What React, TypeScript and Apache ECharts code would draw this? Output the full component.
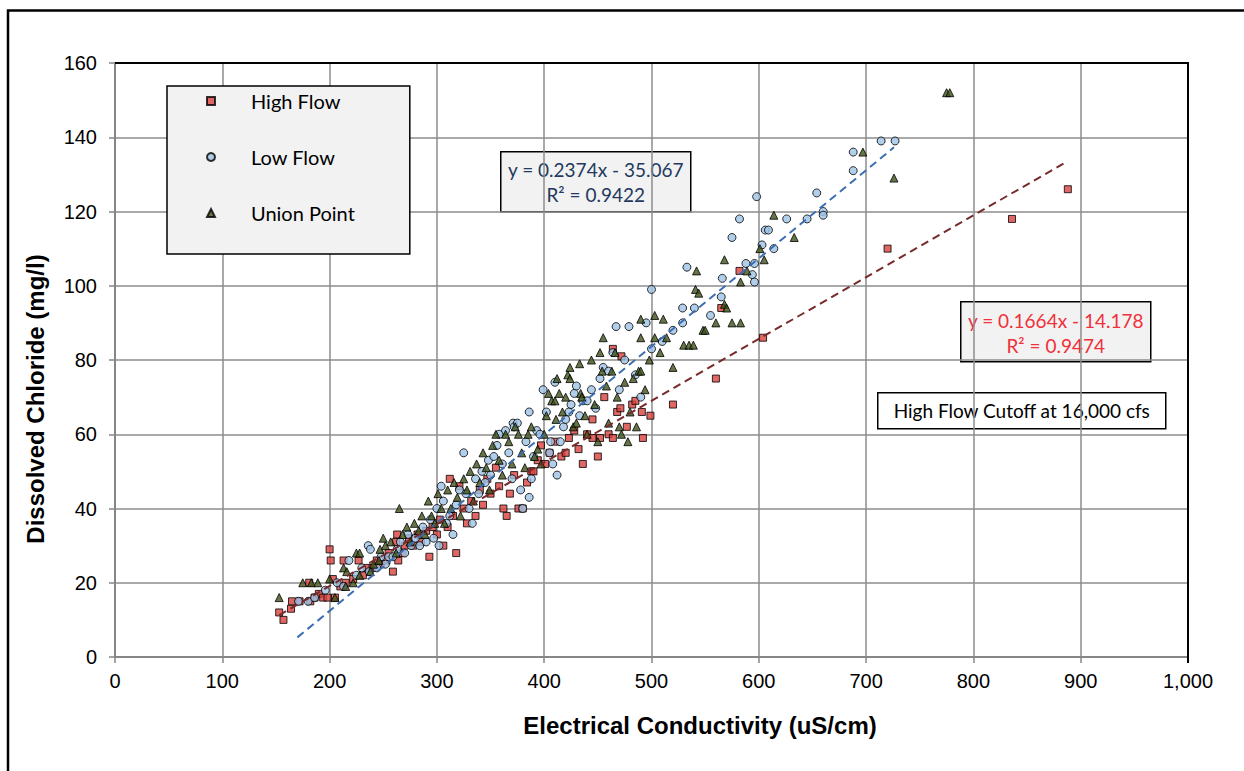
import React, { useEffect, useRef } from "react";
import * as echarts from "echarts";

// Electrical conductivity (uS/cm) vs dissolved chloride (mg/l) samples
const highFlow: [number, number][] = [
  [153, 12], [157, 10], [164, 13], [165, 15], [172, 15], [181, 20], [182, 15], [186, 16],
  [190, 17], [194, 16], [198, 16], [200, 29], [201, 26], [203, 21], [205, 16], [210, 19],
  [213, 26], [215, 20], [222, 21], [227, 26], [231, 22], [235, 24], [240, 24], [244, 26],
  [248, 25], [253, 26], [255, 28], [259, 23], [262, 31], [263, 33], [264, 26], [268, 28],
  [270, 30], [274, 32], [278, 30], [282, 33], [285, 31], [290, 34], [293, 27], [296, 35],
  [300, 33], [303, 37], [306, 30], [310, 35], [312, 48], [315, 38], [318, 28], [321, 46],
  [325, 40], [328, 36], [332, 42], [336, 38], [340, 45], [343, 41], [347, 48], [350, 44],
  [355, 51], [358, 46], [362, 40], [365, 38], [368, 44], [372, 49], [376, 40], [380, 40],
  [384, 47], [388, 50], [390, 50], [394, 53], [397, 57], [401, 52], [405, 55], [410, 58],
  [416, 54], [420, 55], [423, 59], [428, 61], [432, 56], [436, 52], [440, 60], [445, 64],
  [445, 59], [450, 54], [452, 59], [456, 70], [460, 60], [464, 59], [464, 83], [468, 66],
  [471, 67], [472, 81], [477, 62], [482, 68], [485, 69], [491, 66], [492, 59], [499, 65],
  [520, 68], [560, 75], [565, 94], [582, 104], [604, 86], [720, 110], [836, 118], [888, 126],
];

const lowFlow: [number, number][] = [
  [171, 15], [180, 15], [186, 16], [196, 18], [207, 20], [213, 19], [218, 26], [225, 22],
  [230, 24], [236, 30], [237, 23], [238, 29], [244, 24], [248, 27], [252, 25], [255, 27],
  [259, 27], [263, 29], [266, 31], [270, 28], [273, 33], [276, 30], [280, 32], [284, 30],
  [287, 35], [290, 31], [294, 37], [297, 32], [300, 40], [302, 30], [304, 46], [306, 42],
  [309, 36], [312, 38], [315, 33], [318, 41], [321, 45], [325, 55], [327, 44], [330, 40],
  [333, 36], [336, 48], [339, 44], [342, 50], [345, 47], [348, 53], [350, 49], [353, 54],
  [356, 57], [358, 60], [361, 52], [364, 61], [367, 55], [370, 48], [371, 63], [372, 62],
  [375, 63], [378, 45], [380, 40], [383, 58], [386, 43], [386, 66], [388, 48], [390, 54],
  [393, 61], [396, 60], [399, 72], [402, 66], [405, 55], [406, 58], [408, 52], [410, 74],
  [412, 49], [415, 58], [418, 62], [420, 64], [423, 66], [425, 68], [428, 71], [430, 73],
  [433, 65], [436, 69], [440, 69], [444, 72], [448, 67], [452, 75], [455, 78], [460, 77],
  [464, 82], [467, 89], [470, 72], [475, 80], [479, 89], [485, 76], [490, 70], [495, 90],
  [500, 99], [500, 83], [510, 85], [520, 88], [529, 90], [529, 94], [533, 105], [540, 94],
  [555, 92], [565, 97], [566, 102], [575, 113], [582, 118], [588, 106], [594, 103], [596, 101],
  [596, 106], [598, 124], [603, 111], [606, 115], [609, 115], [614, 110], [626, 118], [645, 118],
  [654, 125], [660, 120], [660, 119], [688, 131], [688, 136], [714, 139], [727, 139],
];

const unionPoint: [number, number][] = [
  [153, 16], [175, 20], [183, 20], [189, 20], [200, 21], [205, 16], [213, 24], [215, 19],
  [216, 23], [222, 20], [225, 28], [228, 28], [228, 22], [238, 23], [241, 25], [246, 26],
  [247, 29], [250, 32], [252, 30], [257, 31], [262, 28], [265, 40], [268, 33], [272, 35],
  [275, 31], [279, 36], [283, 34], [286, 38], [289, 33], [292, 42], [295, 38], [298, 36],
  [301, 44], [304, 40], [307, 36], [310, 45], [313, 40], [316, 47], [319, 43], [322, 38],
  [325, 48], [328, 45], [331, 50], [334, 42], [337, 52], [340, 47], [343, 55], [346, 51],
  [349, 45], [352, 57], [355, 60], [358, 53], [361, 49], [364, 60], [367, 58], [370, 52],
  [373, 62], [376, 60], [379, 55], [382, 51], [385, 60], [388, 62], [391, 54], [394, 56],
  [397, 52], [400, 60], [402, 65], [404, 71], [407, 69], [410, 69], [411, 64], [412, 75],
  [414, 71], [417, 66], [420, 70], [422, 76], [424, 78], [424, 75], [427, 62], [430, 63],
  [433, 79], [434, 71], [435, 70], [438, 65], [440, 60], [444, 80], [447, 68], [450, 58],
  [452, 82], [454, 77], [455, 86], [458, 73], [460, 63], [463, 77], [466, 82], [468, 70],
  [470, 62], [472, 60], [475, 74], [478, 58], [480, 66], [483, 75], [486, 62], [488, 77],
  [490, 86], [490, 91], [490, 77], [494, 72], [498, 80], [503, 86], [503, 92], [508, 82],
  [511, 91], [514, 86], [520, 78], [530, 84], [535, 84], [539, 84], [541, 99], [542, 104],
  [544, 98], [548, 88], [550, 88], [560, 90], [568, 95], [568, 107], [570, 94], [575, 90],
  [583, 101], [583, 90], [589, 104], [601, 110], [605, 107], [614, 119], [633, 113], [697, 136],
  [726, 129], [775, 152], [778, 152],
];

// Linear fits (slope, intercept) and the x-range each trend line spans
const lowFlowFit = { slope: 0.2374, intercept: -35.067, r2: 0.9422, from: 170, to: 726 };
const highFlowFit = { slope: 0.1664, intercept: -14.178, r2: 0.9474, from: 153, to: 888 };

const xTicks = { min: 0, max: 1000, interval: 100 };
const yTicks = { min: 0, max: 160, interval: 20 };

const xTitle = "Electrical Conductivity (uS/cm)";
const yTitle = "Dissolved Chloride (mg/l)";
const cutoffNote = "High Flow Cutoff at 16,000 cfs";

const fitLine = (f: typeof lowFlowFit): [number, number][] => [
  [f.from, f.slope * f.from + f.intercept],
  [f.to, f.slope * f.to + f.intercept],
];

const eqText = (f: typeof lowFlowFit) =>
  `y = ${f.slope}x - ${Math.abs(f.intercept).toFixed(3)}\nR² = ${f.r2}`;

export default function App() {
  const ref = useRef<HTMLDivElement>(null);

  useEffect(() => {
    if (!ref.current) return;
    const chart = echarts.init(ref.current, null, { renderer: "svg" });

    const gridGray = "#8c8c8c";
    const tickFont = { fontFamily: "Liberation Sans, Arial", fontSize: 20, color: "#000" };
    const calibriLike = "Lato, Carlito, sans-serif";
    const titleStyle = {
      fontFamily: "Liberation Sans, Arial",
      fontSize: 24,
      fontWeight: "bold",
      fill: "#000",
      align: "center",
      verticalAlign: "middle",
    };

    const scatterBase = {
      type: "scatter" as const,
      symbolSize: 8,
      itemStyle: { borderColor: "#000", borderWidth: 1 },
    };

    chart.setOption({
      animation: false,
      backgroundColor: "#fff",
      grid: { left: 115, right: 56, top: 63, bottom: 114, show: false },
      xAxis: {
        type: "value",
        ...xTicks,
        axisLine: { show: true, onZero: false, lineStyle: { color: "#868686", width: 2 } },
        axisTick: { show: true, length: 6, lineStyle: { color: "#868686", width: 1.5 } },
        axisLabel: {
          ...tickFont,
          margin: 14,
          formatter: (v: number) => v.toLocaleString("en-US"),
        },
        splitLine: {
          show: true,
          showMinLine: false,
          showMaxLine: false,
          lineStyle: { color: gridGray, width: 1.5 },
        },
      },
      yAxis: {
        type: "value",
        ...yTicks,
        axisLine: { show: true, onZero: false, lineStyle: { color: "#868686", width: 2 } },
        axisTick: { show: true, length: 6, lineStyle: { color: "#868686", width: 1.5 } },
        axisLabel: { ...tickFont, margin: 18 },
        splitLine: {
          show: true,
          showMinLine: false,
          showMaxLine: false,
          lineStyle: { color: gridGray, width: 1.5 },
        },
      },
      legend: {
        orient: "vertical",
        left: 167,
        top: 86,
        itemWidth: 8,
        itemHeight: 8,
        itemGap: 36,
        padding: [5, 55, 31, 39],
        backgroundColor: "#f2f2f2",
        borderColor: "#000",
        borderWidth: 1.5,
        textStyle: {
          fontFamily: calibriLike,
          fontSize: 20,
          color: "#000",
          padding: [0, 0, 0, 31],
        },
        data: ["High Flow", "Low Flow", "Union Point"],
      },
      series: [
        {
          ...scatterBase,
          name: "High Flow",
          symbol: "rect",
          symbolSize: 7,
          itemStyle: { ...scatterBase.itemStyle, color: "#d9413f" },
          data: highFlow,
          z: 3,
        },
        {
          ...scatterBase,
          name: "Low Flow",
          symbol: "circle",
          itemStyle: { ...scatterBase.itemStyle, color: "#9dc3e6" },
          data: lowFlow,
          z: 3,
        },
        {
          ...scatterBase,
          name: "Union Point",
          symbol: "triangle",
          symbolSize: 8,
          itemStyle: { ...scatterBase.itemStyle, color: "#3e5219" },
          data: unionPoint,
          z: 3,
        },
        {
          type: "line",
          name: "Low Flow fit",
          data: fitLine(lowFlowFit),
          showSymbol: false,
          symbol: "none",
          lineStyle: { color: "#3b6db3", width: 2, type: [8, 5] },
          z: 4,
        },
        {
          type: "line",
          name: "High Flow fit",
          data: fitLine(highFlowFit),
          showSymbol: false,
          symbol: "none",
          lineStyle: { color: "#772b2b", width: 2, type: [8, 5] },
          z: 4,
        },
      ],
      graphic: [
        // outer frame
        {
          type: "rect",
          shape: { x: 8, y: 10.5, width: 1400, height: 1000 },
          style: { fill: "none", stroke: "#000", lineWidth: 2.5 },
          z: 10,
        },
        // top and right plot border
        {
          type: "polyline",
          shape: { points: [[115, 63], [1188, 63], [1188, 663]] },
          style: { fill: "none", stroke: "#000", lineWidth: 2 },
          z: 10,
        },
        // axis titles
        {
          type: "text",
          x: 700,
          y: 725,
          style: { ...titleStyle, text: xTitle },
          z: 10,
        },
        {
          type: "text",
          x: 35,
          y: 399,
          rotation: Math.PI / 2,
          style: { ...titleStyle, text: yTitle },
          z: 10,
        },
        {
          type: "group",
          left: 500,
          top: 151,
          z: 20,
          children: [
            {
              type: "rect",
              shape: { x: 0, y: 0, width: 190, height: 60 },
              style: { fill: "#f2f2f2", stroke: "#000", lineWidth: 1.5 },
            },
            {
              type: "text",
              x: 95,
              y: 30,
              style: {
                text: eqText(lowFlowFit),
                align: "center",
                verticalAlign: "middle",
                fontFamily: calibriLike,
                fontSize: 19,
                lineHeight: 25,
                fill: "#23395d",
              },
            },
          ],
        },
        {
          type: "group",
          left: 960,
          top: 301,
          z: 20,
          children: [
            {
              type: "rect",
              shape: { x: 0, y: 0, width: 190, height: 60 },
              style: { fill: "#f2f2f2", stroke: "#000", lineWidth: 1.5 },
            },
            {
              type: "text",
              x: 95,
              y: 31,
              style: {
                text: eqText(highFlowFit),
                align: "center",
                verticalAlign: "middle",
                fontFamily: calibriLike,
                fontSize: 19,
                lineHeight: 25,
                fill: "#f0303a",
              },
            },
          ],
        },
        {
          type: "group",
          left: 877,
          top: 392,
          z: 20,
          children: [
            {
              type: "rect",
              shape: { x: 0, y: 0, width: 288, height: 36 },
              style: { fill: "#fff", stroke: "#000", lineWidth: 1.5 },
            },
            {
              type: "text",
              x: 144,
              y: 18,
              style: {
                text: cutoffNote,
                align: "center",
                verticalAlign: "middle",
                fontFamily: calibriLike,
                fontSize: 19,
                fill: "#000",
              },
            },
          ],
        },
      ],
    });

    return () => chart.dispose();
  }, []);

  return (
    <div
      ref={ref}
      style={{ position: "fixed", left: 0, top: 0, width: 1244, height: 771 }}
    />
  );
}
